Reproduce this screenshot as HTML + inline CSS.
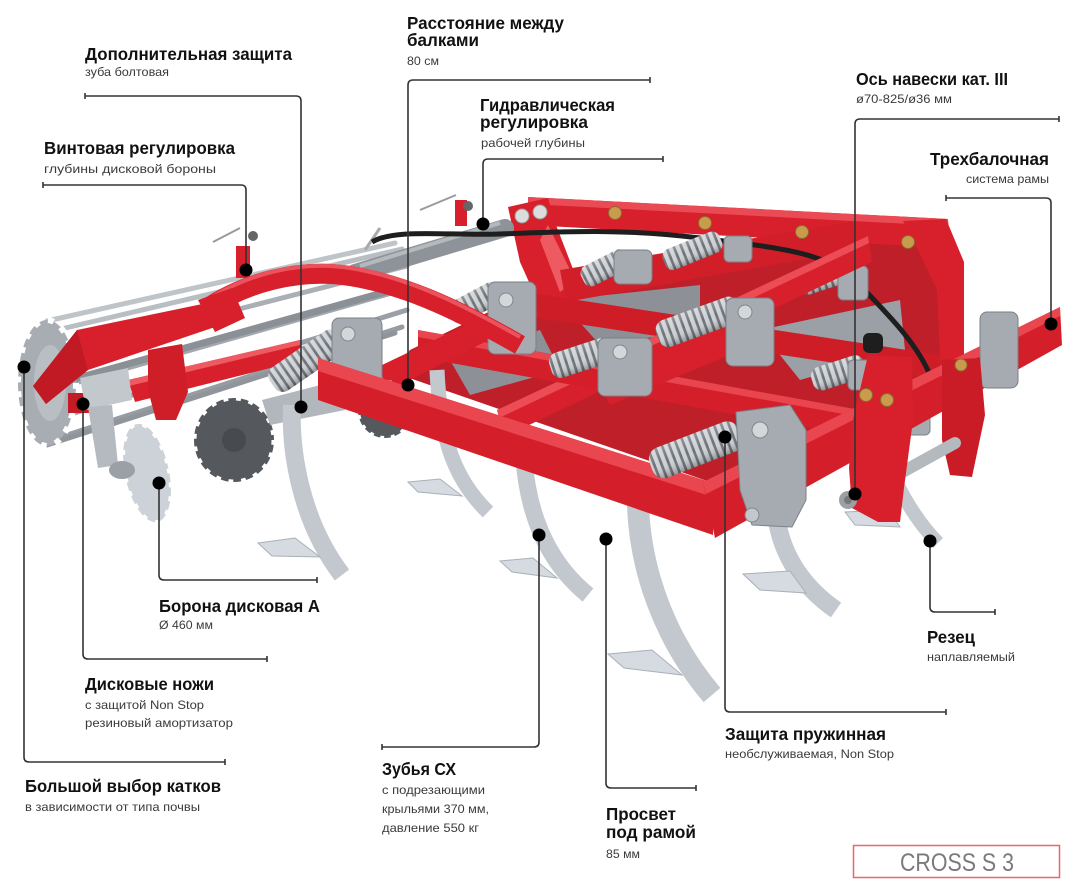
<!DOCTYPE html>
<html><head><meta charset="utf-8"><style>
html,body{margin:0;padding:0;background:#fff;}
svg{display:block;}
</style></head><body>
<svg width="1088" height="890" viewBox="0 0 1088 890" xmlns="http://www.w3.org/2000/svg">
<defs>
<pattern id="coil" width="7" height="60" patternUnits="userSpaceOnUse"><rect width="7" height="60" fill="#cdd1d5"/><rect x="4.3" width="2.7" height="60" fill="#6c7176"/></pattern>
<linearGradient id="shade" x1="0" y1="0" x2="0" y2="1"><stop offset="0" stop-color="#fff" stop-opacity="0.25"/><stop offset="0.5" stop-color="#fff" stop-opacity="0"/><stop offset="1" stop-color="#000" stop-opacity="0.3"/></linearGradient>
</defs>

<!-- roller -->
<g stroke-linecap="round" fill="none">
<line x1="47" y1="321" x2="395" y2="243" stroke="#bfc4c9" stroke-width="5"/>
<line x1="61" y1="329" x2="402" y2="249" stroke="#b9bec3" stroke-width="5"/>
<line x1="71" y1="352" x2="407" y2="266" stroke="#a9afb5" stroke-width="5"/>
<line x1="75" y1="383" x2="409" y2="288" stroke="#a2a8ae" stroke-width="5"/>
<line x1="71" y1="414" x2="407" y2="310" stroke="#9aa0a6" stroke-width="5"/>
<line x1="61" y1="437" x2="402" y2="327" stroke="#969ca2" stroke-width="5"/>
<line x1="47" y1="445" x2="395" y2="333" stroke="#8f959b" stroke-width="5"/>
<line x1="60" y1="383" x2="400" y2="288" stroke="#8a9096" stroke-width="7"/>
</g>
<ellipse cx="47" cy="383" rx="29" ry="63" fill="#a7adb3"/>
<ellipse cx="47" cy="383" rx="29" ry="63" fill="none" stroke="#fff" stroke-width="6" stroke-dasharray="6 9"/>
<ellipse cx="50" cy="383" rx="16" ry="38" fill="#b9bec3"/>

<!-- interior fill of frame (dense beams/shadows) -->
<polygon points="392,372 410,350 530,292 560,285 700,262 855,238 950,250 962,356 713,483" fill="#bf1f29"/>
<polygon points="560,300 700,285 700,330 600,345" fill="#8d9197"/>
<polygon points="760,330 900,300 905,350 800,380" fill="#9aa0a6"/>
<polygon points="450,360 540,330 560,370 470,395" fill="#8d9197"/>

<!-- back red structure -->
<polygon points="528,197 948,219 950,248 528,225" fill="#d7202b"/>
<polygon points="528,197 948,219 948,226 528,204" fill="#ea4a53"/>
<polygon points="508,207 548,198 556,225 578,282 568,300 538,302 520,262" fill="#d7202b"/>
<polygon points="548,225 575,280 560,292 540,240" fill="#ee5a62"/>
<polygon points="560,270 852,222 856,250 566,302" fill="#d21e29"/>
<polygon points="525,292 960,358 960,382 525,316" fill="#cf1d28"/>
<polygon points="903,221 946,219 964,262 964,360 940,360 937,290 918,250" fill="#d7202b"/>
<circle cx="522" cy="216" r="7" fill="#dcdcdc" stroke="#999"/>
<circle cx="540" cy="212" r="7" fill="#dcdcdc" stroke="#999"/>
<g fill="#c99b4c" stroke="#8a6a2e"><circle cx="615" cy="213" r="6.5"/><circle cx="705" cy="223" r="6.5"/><circle cx="802" cy="232" r="6.5"/><circle cx="908" cy="242" r="6.5"/></g>

<!-- hydraulic cylinder, handles -->
<line x1="355" y1="273" x2="505" y2="228" stroke="#8d9399" stroke-width="18" stroke-linecap="round"/>
<line x1="360" y1="266" x2="500" y2="223" stroke="#b4b9be" stroke-width="4"/>
<line x1="213" y1="242" x2="240" y2="228" stroke="#9a9a9a" stroke-width="2"/>
<rect x="236" y="246" width="14" height="32" fill="#d7202b"/>
<circle cx="253" cy="236" r="5" fill="#666"/>
<line x1="420" y1="210" x2="456" y2="195" stroke="#9a9a9a" stroke-width="2"/>
<rect x="455" y="200" width="12" height="26" fill="#d7202b"/>
<circle cx="468" cy="206" r="5" fill="#666"/>
<line x1="365" y1="250" x2="380" y2="228" stroke="#aaa" stroke-width="3"/>
<path d="M372,242 C395,228 450,236 500,234 C560,232 620,228 700,238 C780,248 830,252 860,285 C885,312 915,340 930,375" fill="none" stroke="#1e1e1e" stroke-width="5"/>

<!-- back springs -->
<g transform="translate(605,268) rotate(-27)"><rect x="-25" y="-11" width="51" height="22" rx="8" fill="url(#coil)"/><rect x="-25" y="-11" width="51" height="22" rx="8" fill="url(#shade)"/></g>
<g transform="translate(692,251) rotate(-22)"><rect x="-30" y="-11" width="61" height="22" rx="8" fill="url(#coil)"/><rect x="-30" y="-11" width="61" height="22" rx="8" fill="url(#shade)"/></g>
<g transform="translate(825,278) rotate(-18)"><rect x="-27" y="-11" width="55" height="22" rx="8" fill="url(#coil)"/><rect x="-27" y="-11" width="55" height="22" rx="8" fill="url(#shade)"/></g>
<g fill="#a5abb1" stroke="#7b8187"><rect x="614" y="250" width="38" height="34" rx="6"/><rect x="724" y="236" width="28" height="26" rx="5"/><rect x="838" y="266" width="30" height="34" rx="5"/></g>

<!-- middle beams -->
<polygon points="497,410 868,236 872,262 506,436" fill="#d7202b"/>
<polygon points="497,410 868,236 869,243 499,418" fill="#ec4c55"/>
<polygon points="418,330 860,410 860,437 418,357" fill="#d41f2a"/>
<polygon points="418,330 860,410 860,417 418,337" fill="#e8454f"/>
<polygon points="380,366 535,292 538,315 386,392" fill="#d7202b"/>
<polygon points="600,385 760,318 765,340 610,405" fill="#d7202b"/>

<!-- middle springs -->
<g transform="translate(475,303) rotate(-28)"><rect x="-28" y="-12" width="57" height="24" rx="9" fill="url(#coil)"/><rect x="-28" y="-12" width="57" height="24" rx="9" fill="url(#shade)"/></g>
<g transform="translate(581,358) rotate(-18)"><rect x="-32" y="-13" width="64" height="26" rx="9" fill="url(#coil)"/><rect x="-32" y="-13" width="64" height="26" rx="9" fill="url(#shade)"/></g>
<g transform="translate(698,322) rotate(-20)"><rect x="-43" y="-14" width="87" height="28" rx="10" fill="url(#coil)"/><rect x="-43" y="-14" width="87" height="28" rx="10" fill="url(#shade)"/></g>
<g transform="translate(838,373) rotate(-18)"><rect x="-27" y="-12" width="55" height="24" rx="9" fill="url(#coil)"/><rect x="-27" y="-12" width="55" height="24" rx="9" fill="url(#shade)"/></g>
<g fill="#a5abb1" stroke="#7b8187">
<rect x="488" y="282" width="48" height="72" rx="7"/>
<rect x="598" y="338" width="54" height="58" rx="7"/>
<rect x="726" y="298" width="48" height="68" rx="7"/>
<rect x="848" y="360" width="26" height="30" rx="5"/>
<rect x="904" y="380" width="26" height="55" rx="5"/>
</g>
<g fill="#d3d7da" stroke="#80868c"><circle cx="506" cy="300" r="7"/><circle cx="620" cy="352" r="7"/><circle cx="745" cy="312" r="7"/></g>

<!-- dark discs back -->
<ellipse cx="385" cy="410" rx="27" ry="28" fill="#55595e"/>
<ellipse cx="385" cy="410" rx="27" ry="28" fill="none" stroke="#fff" stroke-width="4" stroke-dasharray="4 7"/>

<!-- arch and left arm -->
<path d="M205,310 C245,282 300,268 350,276 C400,284 450,305 520,345" fill="none" stroke="#d7202b" stroke-width="20"/>
<path d="M205,302 C245,274 300,260 350,268 C400,276 450,297 520,337" fill="none" stroke="#ec525b" stroke-width="4"/>
<polygon points="33,386 77,330 212,302 224,324 88,370 46,404" fill="#d7202b"/>
<polygon points="33,386 77,330 88,370 46,404" fill="#c21a25"/>
<polygon points="198,300 232,288 245,318 215,332" fill="#d7202b"/>
<polygon points="128,380 300,340 302,360 135,402" fill="#d7202b"/>
<polygon points="128,380 300,340 300,345 129,386" fill="#ee5a62"/>
<rect x="68" y="393" width="24" height="20" fill="#c51b26"/>
<polygon points="148,350 182,344 188,392 176,420 156,420 148,390" fill="#d01e29"/>

<!-- front discs -->
<ellipse cx="234" cy="440" rx="40" ry="42" fill="#55595e"/>
<ellipse cx="234" cy="440" rx="40" ry="42" fill="none" stroke="#fff" stroke-width="5" stroke-dasharray="5 8"/>
<ellipse cx="234" cy="440" rx="12" ry="12" fill="#474b50"/>
<polygon points="80,378 128,368 132,400 86,410" fill="#c3c8cd"/>
<polygon points="88,407 112,405 118,465 98,468" fill="#b5bac0"/>
<ellipse cx="147" cy="473" rx="22" ry="50" transform="rotate(-12 147 473)" fill="#cdd2d8"/>
<ellipse cx="147" cy="473" rx="22" ry="50" transform="rotate(-12 147 473)" fill="none" stroke="#fff" stroke-width="4" stroke-dasharray="5 9"/>
<ellipse cx="122" cy="470" rx="13" ry="9" fill="#9aa0a6"/>

<!-- tines -->
<g fill="none" stroke-linecap="butt">
<path d="M437,370 C440,440 455,480 488,512" stroke="#c3c8ce" stroke-width="15"/>
<path d="M524,460 C528,510 545,560 588,595" stroke="#c3c8ce" stroke-width="17"/>
<path d="M638,505 C640,570 665,640 712,695" stroke="#c3c8ce" stroke-width="22"/>
<path d="M775,505 C778,550 800,585 836,610" stroke="#c3c8ce" stroke-width="18"/>
<path d="M895,480 C905,500 920,525 938,543" stroke="#c3c8ce" stroke-width="14"/>
</g>
<g fill="#d6dbe1" stroke="#a9b0b7">
<polygon points="408,482 440,479 462,496 418,492"/>
<polygon points="500,561 533,558 557,578 512,572"/>
<polygon points="608,654 652,650 682,675 624,668"/>
<polygon points="743,574 790,571 806,593 760,590"/>
<polygon points="845,512 888,510 900,527 855,525"/>
</g>

<!-- T1 + S1 -->
<polygon points="262,400 340,380 345,410 270,425" fill="#b1b7bd"/>
<path d="M292,405 C290,450 300,520 342,575" fill="none" stroke="#c3c8ce" stroke-width="18"/>
<polygon points="258,543 295,538 320,557 272,556" fill="#d6dbe1" stroke="#a9b0b7"/>
<g transform="translate(306,361) rotate(-34.6)"><rect x="-41" y="-14" width="83" height="28" rx="10" fill="url(#coil)"/><rect x="-41" y="-14" width="83" height="28" rx="10" fill="url(#shade)"/></g>
<rect x="332" y="318" width="50" height="68" rx="7" fill="#a5abb1" stroke="#7b8187"/>
<circle cx="348" cy="334" r="7" fill="#d3d7da" stroke="#80868c"/>

<!-- front beam L1 -->
<polygon points="318,358 713,483 713,535 318,400" fill="#d41f2a"/>
<polygon points="318,358 713,483 713,497 318,371" fill="#e94650"/>
<!-- right cross beam R -->
<polygon points="703,482 1060,307 1062,345 715,538" fill="#d41f2a"/>
<polygon points="703,482 1060,307 1060,316 706,494" fill="#e94650"/>
<rect x="980" y="312" width="38" height="76" rx="7" fill="#a5abb1" stroke="#7b8187"/>

<!-- S4 -->
<g transform="translate(695,450) rotate(-21)"><rect x="-47" y="-16" width="95" height="32" rx="12" fill="url(#coil)"/><rect x="-47" y="-16" width="95" height="32" rx="12" fill="url(#shade)"/></g>
<polygon points="736,412 790,405 806,430 806,500 792,527 752,525 740,490" fill="#a5abb1" stroke="#7b8187"/>
<circle cx="760" cy="430" r="8" fill="#d3d7da" stroke="#80868c"/>
<circle cx="752" cy="515" r="7" fill="#c4c8cc" stroke="#80868c"/>

<!-- right headstock lower -->
<polygon points="942,360 980,358 985,415 972,477 950,475 942,440" fill="#c91c27"/>
<line x1="848" y1="502" x2="955" y2="443" stroke="#b4b9be" stroke-width="12" stroke-linecap="round"/>
<polygon points="853,420 868,355 912,357 913,420 904,488 900,522 878,522 852,508 849,468" fill="#d7202b"/>
<circle cx="848" cy="500" r="9" fill="#9aa0a6"/>
<circle cx="848" cy="500" r="4" fill="#777"/>
<rect x="863" y="333" width="20" height="20" rx="6" fill="#1e1e1e"/>
<g fill="#c99b4c" stroke="#8a6a2e"><circle cx="866" cy="395" r="6.5"/><circle cx="887" cy="400" r="6.5"/><circle cx="961" cy="365" r="6"/></g>

<!-- leader lines -->
<g fill="none" stroke="#333" stroke-width="1.6">
<path d="M650,80 H413 Q408,80 408,85 V385"/><path d="M650,77 V83"/>
<path d="M85,96 H296 Q301,96 301,101 V407"/><path d="M85,93 V99"/>
<path d="M663,159 H488 Q483,159 483,164 V224"/><path d="M663,156 V162"/>
<path d="M43,185 H241 Q246,185 246,190 V270"/><path d="M43,182 V188"/>
<path d="M1059,119 H860 Q855,119 855,124 V494"/><path d="M1059,116 V122"/>
<path d="M946,198 H1046 Q1051,198 1051,203 V324"/><path d="M946,195 V201"/>
<path d="M159,483 V575 Q159,580 164,580 H317"/><path d="M317,577 V583"/>
<path d="M83,404 V654 Q83,659 88,659 H267"/><path d="M267,656 V662"/>
<path d="M24,367 V757 Q24,762 29,762 H225"/><path d="M225,759 V765"/>
<path d="M539,535 V742 Q539,747 534,747 H382"/><path d="M382,744 V750"/>
<path d="M606,539 V783 Q606,788 611,788 H696"/><path d="M696,785 V791"/>
<path d="M725,437 V707 Q725,712 730,712 H946"/><path d="M946,709 V715"/>
<path d="M930,541 V607 Q930,612 935,612 H995"/><path d="M995,609 V615"/>
</g>
<g fill="#000">
<circle cx="408" cy="385" r="6.5"/><circle cx="301" cy="407" r="6.5"/><circle cx="483" cy="224" r="6.5"/>
<circle cx="246" cy="270" r="6.5"/><circle cx="855" cy="494" r="6.5"/><circle cx="1051" cy="324" r="6.5"/>
<circle cx="159" cy="483" r="6.5"/><circle cx="83" cy="404" r="6.5"/><circle cx="24" cy="367" r="6.5"/>
<circle cx="539" cy="535" r="6.5"/><circle cx="606" cy="539" r="6.5"/><circle cx="725" cy="437" r="6.5"/>
<circle cx="930" cy="541" r="6.5"/>
</g>

<!-- text -->
<g font-family="'Liberation Sans', Arial, sans-serif" font-weight="bold" font-size="17.5" fill="#111">
<text x="407" y="29" textLength="157" lengthAdjust="spacingAndGlyphs">Расстояние между</text>
<text x="407" y="46" textLength="72" lengthAdjust="spacingAndGlyphs">балками</text>
<text x="85" y="60" textLength="207" lengthAdjust="spacingAndGlyphs">Дополнительная защита</text>
<text x="480" y="111" textLength="135" lengthAdjust="spacingAndGlyphs">Гидравлическая</text>
<text x="480" y="128" textLength="108" lengthAdjust="spacingAndGlyphs">регулировка</text>
<text x="44" y="154" textLength="191" lengthAdjust="spacingAndGlyphs">Винтовая регулировка</text>
<text x="856" y="85" textLength="152" lengthAdjust="spacingAndGlyphs">Ось навески кат. III</text>
<text x="930" y="165" textLength="119" lengthAdjust="spacingAndGlyphs">Трехбалочная</text>
<text x="159" y="612" textLength="161" lengthAdjust="spacingAndGlyphs">Борона дисковая А</text>
<text x="85" y="690" textLength="129" lengthAdjust="spacingAndGlyphs">Дисковые ножи</text>
<text x="25" y="792" textLength="196" lengthAdjust="spacingAndGlyphs">Большой выбор катков</text>
<text x="382" y="775" textLength="74" lengthAdjust="spacingAndGlyphs">Зубья СХ</text>
<text x="606" y="820" textLength="70" lengthAdjust="spacingAndGlyphs">Просвет</text>
<text x="606" y="838" textLength="90" lengthAdjust="spacingAndGlyphs">под рамой</text>
<text x="725" y="740" textLength="161" lengthAdjust="spacingAndGlyphs">Защита пружинная</text>
<text x="927" y="643" textLength="48" lengthAdjust="spacingAndGlyphs">Резец</text>
</g>
<g font-family="'Liberation Sans', Arial, sans-serif" font-size="12" fill="#3a3a3a">
<text x="407" y="65" textLength="32" lengthAdjust="spacingAndGlyphs">80 см</text>
<text x="85" y="76" textLength="84" lengthAdjust="spacingAndGlyphs">зуба болтовая</text>
<text x="481" y="147" textLength="104" lengthAdjust="spacingAndGlyphs">рабочей глубины</text>
<text x="44" y="173" textLength="172" lengthAdjust="spacingAndGlyphs">глубины дисковой бороны</text>
<text x="856" y="103" textLength="96" lengthAdjust="spacingAndGlyphs">ø70-825/ø36 мм</text>
<text x="966" y="183" textLength="83" lengthAdjust="spacingAndGlyphs">система рамы</text>
<text x="159" y="629" textLength="54" lengthAdjust="spacingAndGlyphs">Ø 460 мм</text>
<text x="85" y="709" textLength="119" lengthAdjust="spacingAndGlyphs">с защитой Non Stop</text>
<text x="85" y="727" textLength="148" lengthAdjust="spacingAndGlyphs">резиновый амортизатор</text>
<text x="25" y="811" textLength="175" lengthAdjust="spacingAndGlyphs">в зависимости от типа почвы</text>
<text x="382" y="794" textLength="103" lengthAdjust="spacingAndGlyphs">с подрезающими</text>
<text x="382" y="813" textLength="107" lengthAdjust="spacingAndGlyphs">крыльями 370 мм,</text>
<text x="382" y="832" textLength="97" lengthAdjust="spacingAndGlyphs">давление 550 кг</text>
<text x="606" y="858" textLength="34" lengthAdjust="spacingAndGlyphs">85 мм</text>
<text x="725" y="758" textLength="169" lengthAdjust="spacingAndGlyphs">необслуживаемая, Non Stop</text>
<text x="927" y="661" textLength="88" lengthAdjust="spacingAndGlyphs">наплавляемый</text>
</g>
<rect x="853.5" y="845.5" width="206" height="32" fill="none" stroke="#e8666a" stroke-width="1.5"/>
<text x="900" y="871" font-family="'Liberation Sans', Arial, sans-serif" font-size="25" fill="#7a7a7a" textLength="114" lengthAdjust="spacingAndGlyphs">CROSS S 3</text>
</svg>
</body></html>
